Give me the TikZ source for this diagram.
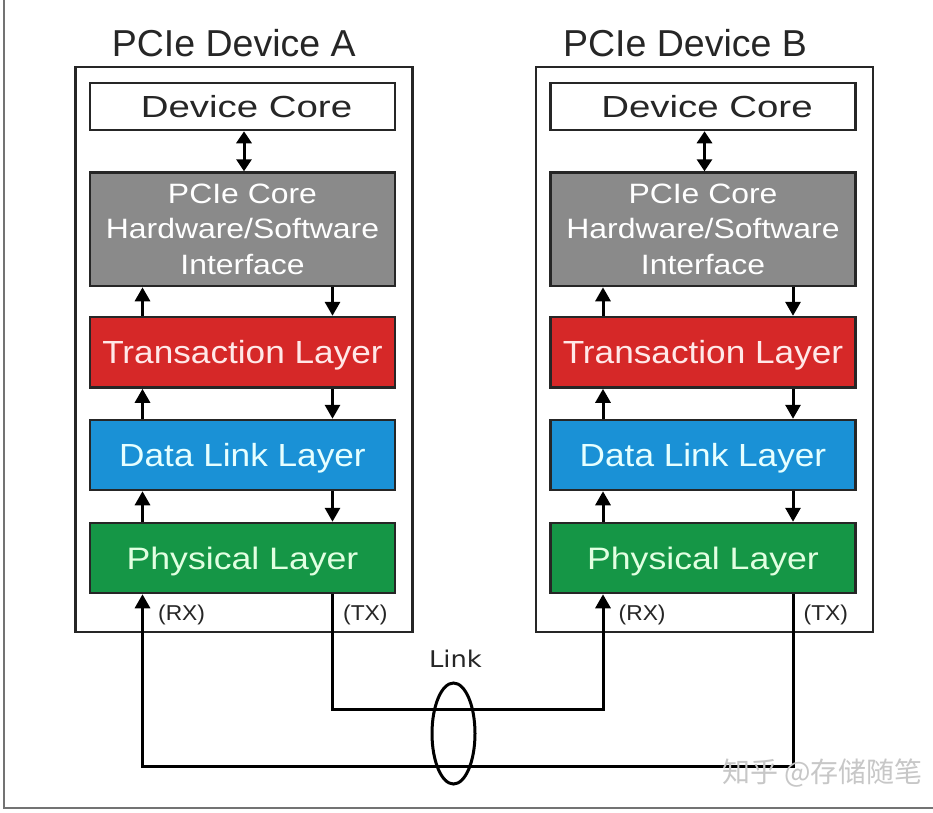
\documentclass[tikz,border=0pt]{standalone}
\usepackage{fontspec}
\usepackage{graphicx}
\setmainfont{Liberation Sans}
\newfontfamily\linkfont{DejaVu Sans}
\newfontfamily\cjkfont{Noto Sans CJK SC}
\usetikzlibrary{arrows.meta,shapes.geometric}
\definecolor{tlred}{RGB}{214,40,40}
\definecolor{dlblue}{RGB}{26,145,214}
\definecolor{phgreen}{RGB}{21,150,70}
\definecolor{coregray}{RGB}{138,138,138}
\definecolor{tltext}{RGB}{255,232,232}
\definecolor{dltext}{RGB}{230,255,255}
\definecolor{phtext}{RGB}{225,255,225}
\newcommand\hx[2]{\scalebox{#1}[1]{#2}}
\begin{document}
\begin{tikzpicture}[x=1pt,y=-1pt,
  outerbox/.style={draw=black!85, line width=2.4pt, minimum width=337pt, minimum height=565pt, inner sep=0pt},
  layer/.style={draw=black!85, line width=2.5pt, minimum width=305pt, minimum height=70pt, inner sep=0pt, text height=23pt, text depth=0pt, font=\fontsize{32}{36}\selectfont},
  graybox/.style={draw=black!85, line width=2.5pt, minimum width=305pt, minimum height=113.5pt, inner sep=0pt, fill=coregray, text=white, align=center, font=\fontsize{28}{35.8}\selectfont},
  arr/.style={line width=3pt, -{Triangle[width=15pt,length=14pt]}},
  darr/.style={line width=3pt, {Triangle[width=15pt,length=12pt]}-{Triangle[width=15pt,length=12pt]}},
  title/.style={font=\fontsize{37.5}{40}\selectfont, text=black!85, anchor=base, inner sep=0pt},
  port/.style={font=\fontsize{21.5}{24}\selectfont, text=black!85, anchor=base west, inner sep=0pt},
]
\useasboundingbox (0,0) rectangle (933,812);
\fill[white] (0,0) rectangle (933,812);
\draw[black!55, line width=1.5pt] (4,0) -- (4,808) -- (933,808);
\foreach \d/\cx/\tx in {A/242.5/233.8,B/703/685}{
  \node[title] (title\d) at (\tx,56) {PCIe Device \d};
  \node[outerbox] (dev\d) at (\cx+1.3,349.3) {};
  \node[layer, fill=white, minimum height=47pt, font=\fontsize{30.5}{34}\selectfont, text=black!85, text height=22pt] (core\d) at (\cx,106.5) {\hspace*{8pt}\hx{1.26}{Device Core}};
  \node[graybox] (gray\d) at (\cx,229.3) {\hx{1.14}{PCIe Core}\\\hx{1.14}{Hardware/Software}\\\hx{1.14}{Interface}};
  \node[layer, fill=tlred, text=tltext, minimum height=70.5pt] (red\d) at (\cx,352.3) {\hx{1.1}{Transaction Layer}};
  \node[layer, fill=dlblue, text=dltext] (blue\d) at (\cx,455) {\hx{1.1}{Data Link Layer}};
  \node[layer, fill=phgreen, text=phtext, font=\fontsize{31}{35}\selectfont, text height=22.3pt] (green\d) at (\cx,558) {\hx{1.15}{Physical Layer}};
  \draw[darr] ([xshift=1.5pt]core\d.south) -- ([xshift=1.5pt]gray\d.north);
  \draw[arr] ([xshift=-100pt]red\d.north) -- ([xshift=-100pt]gray\d.south);
  \draw[arr] ([xshift=90pt]gray\d.south) -- ([xshift=90pt]red\d.north);
  \draw[arr] ([xshift=-100pt]blue\d.north) -- ([xshift=-100pt]red\d.south);
  \draw[arr] ([xshift=90pt]red\d.south) -- ([xshift=90pt]blue\d.north);
  \draw[arr] ([xshift=-100pt]green\d.north) -- ([xshift=-100pt]blue\d.south);
  \draw[arr] ([xshift=90pt]blue\d.south) -- ([xshift=90pt]green\d.north);
  \node[port] (rx\d) at (\cx-84.5,620) {\hx{1.06}{(RX)}};
  \node[port] (tx\d) at (\cx+100.5,620) {\hx{1.06}{(TX)}};
}
\draw[arr] ([xshift=90pt]greenA.south) -- ++(0,115) -| ([xshift=-100pt]greenB.south);
\draw[arr] ([xshift=90pt]greenB.south) -- ++(0,172) -| ([xshift=-100pt]greenA.south);
\node[draw, ellipse, line width=3pt, minimum width=43pt, minimum height=101pt, inner sep=0pt] (link) at (453.5,733.5) {};
\node[font=\linkfont\fontsize{23}{26}\selectfont, anchor=base, inner sep=0pt, text=black!85] (linklabel) at (455.5,667) {\hx{1.12}{Link}};
\node[font=\cjkfont\fontsize{28}{30}\selectfont, text=black!22, anchor=base west, inner sep=0pt] (wm) at (722,782) {知乎 @存储随笔};
\end{tikzpicture}
\end{document}
